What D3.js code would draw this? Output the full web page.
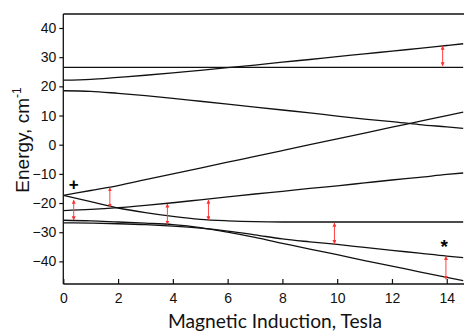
<!DOCTYPE html>
<html><head><meta charset="utf-8">
<script src="https://cdn.jsdelivr.net/npm/d3@7"></script>
<style>body{margin:0;background:#fff}svg{display:block}</style>
</head><body><svg id="c" width="464" height="331"></svg>
<script>
// Magnetic field (Tesla)
const fieldB = [0,1,2,3,4,5,6,7,8,9,10,11,12,13,14,14.6];
// Energy levels (cm^-1)
const levelA = [26.5,26.5,26.5,26.5,26.5,26.5,26.5,26.5,26.5,26.5,26.5,26.5,26.5,26.5,26.5,26.5];
const levelB = [22.1,22.4,23.1,23.8,24.6,25.5,26.4,27.3,28.3,29.2,30.2,31.1,32.1,33.0,34.0,34.6];
const levelC = [18.5,18.3,17.6,16.8,15.9,14.9,13.9,12.9,11.9,10.9,9.8,8.8,7.9,6.9,6.1,5.6];
const levelD = [-17.4,-15.7,-14.0,-12.0,-10.0,-8.0,-6.0,-4.0,-2.0,0.0,2.0,4.0,6.0,8.0,10.0,11.2];
const levelE = [-17.4,-19.5,-21.7,-23.3,-24.6,-25.6,-26.1,-26.4,-26.5,-26.5,-26.5,-26.5,-26.5,-26.5,-26.5,-26.5];
const levelF = [-22.6,-22.2,-21.6,-20.8,-19.9,-18.9,-17.9,-16.9,-16.0,-15.0,-14.1,-13.1,-12.1,-11.2,-10.2,-9.7];
const levelG = [-25.9,-26.1,-26.5,-26.9,-27.4,-28.4,-30.0,-31.8,-33.8,-35.8,-37.7,-39.7,-41.6,-43.6,-45.5,-46.6];
const levelH = [-26.8,-26.9,-27.1,-27.4,-27.9,-28.6,-29.6,-30.9,-32.3,-33.3,-34.2,-35.2,-36.2,-37.2,-38.2,-38.7];
const levels = [levelA, levelB, levelC, levelD, levelE, levelF, levelG, levelH];
// Transitions: field, from energy, to energy
const arrowB    = [0.38, 1.7, 3.8, 5.3, 9.9, 13.97, 13.85];
const arrowFrom = [-19.0, -14.8, -20.3, -19.0, -26.9, -38.3, 27.0];
const arrowTo   = [-25.8, -21.4, -27.3, -25.8, -33.9, -46.1, 33.8];
// Annotations
const markText = ["+", "*"];
const markB    = [0.38, 13.91];
const markE    = [-13.8, -33.8];
const yTicks = [-40,-30,-20,-10,0,10,20,30,40];
const xTicks = [0,2,4,6,8,10,12,14];

const svg = d3.select("#c");
const L = 63.3, R = 464, T = 14, Bt = 284;
const x = d3.scaleLinear().domain([0, 14.63]).range([L, R]);
const y = d3.scaleLinear().domain([-47.75, 44.8]).range([Bt, T]);

svg.append("defs").append("marker")
  .attr("id","ah").attr("viewBox","0 0 10 10").attr("refX",9).attr("refY",5)
  .attr("markerWidth",4).attr("markerHeight",4).attr("markerUnits","userSpaceOnUse")
  .attr("orient","auto-start-reverse")
  .append("path").attr("d","M0,0L10,5L0,10z").attr("fill","#ff3030");

svg.append("clipPath").attr("id","clip").append("rect")
  .attr("x",L).attr("y",T).attr("width",R-L).attr("height",Bt-T);

const line = d3.line().x((d,i)=>x(fieldB[i])).y(d=>y(d)).curve(d3.curveMonotoneX);
const g = svg.append("g").attr("clip-path","url(#clip)");
levels.forEach(lv => g.append("path").attr("d", line(lv))
  .attr("fill","none").attr("stroke","#111").attr("stroke-width",1.3));

arrowB.forEach((b,i) => svg.append("line")
  .attr("x1",x(b)).attr("x2",x(b)).attr("y1",y(arrowFrom[i])).attr("y2",y(arrowTo[i]))
  .attr("stroke","#ff4040").attr("stroke-width",1)
  .attr("marker-start","url(#ah)").attr("marker-end","url(#ah)"));

markText.forEach((t,i) => svg.append("text")
  .attr("x",x(markB[i])).attr("y",y(markE[i])).attr("text-anchor","middle")
  .attr("dominant-baseline","central")
  .attr("font-family","Liberation Sans, Arial, sans-serif").attr("font-weight","bold")
  .attr("font-size", t==="+" ? 17 : 19).attr("dy", t==="*" ? 3 : 0).text(t));

// top frame
svg.append("line").attr("x1",L).attr("x2",R).attr("y1",T).attr("y2",T)
  .attr("stroke","#111").attr("stroke-width",1.3);

const yAx = svg.append("g").attr("transform",`translate(${L},0)`)
  .call(d3.axisLeft(y).tickValues(yTicks).tickSize(4).tickPadding(3).tickFormat(d3.format("d")));
const xAx = svg.append("g").attr("transform",`translate(0,${Bt})`)
  .call(d3.axisBottom(x).tickValues(xTicks).tickSize(-5).tickPadding(9).tickFormat(d3.format("d")));
[yAx,xAx].forEach(a => {
  a.select(".domain").attr("stroke","#111").attr("stroke-width",1.3);
  a.selectAll(".tick line").attr("stroke","#111").attr("stroke-width",1.2);
  a.selectAll("text").attr("font-family","Liberation Sans, Arial, sans-serif")
    .attr("font-size",14).attr("fill","#111");
});
yAx.select(".domain").attr("d",`M0,${Bt}V${T}`);
xAx.select(".domain").attr("d",`M${L},0H${R}`);

svg.append("text").attr("x",275).attr("y",328).attr("text-anchor","middle")
  .attr("font-family","Lato, Open Sans, sans-serif").attr("font-size",18.5)
  .attr("fill","#111").attr("textLength",214).attr("lengthAdjust","spacingAndGlyphs")
  .text("Magnetic Induction, Tesla");

const yl = svg.append("text").attr("transform","translate(28.5,140) rotate(-90)")
  .attr("text-anchor","middle").attr("font-family","Liberation Sans, Arial, sans-serif")
  .attr("font-size",19).attr("fill","#111");
yl.append("tspan").text("Energy, cm");
yl.append("tspan").attr("font-size",12).attr("dy",-8).text("-1");
</script></body></html>
